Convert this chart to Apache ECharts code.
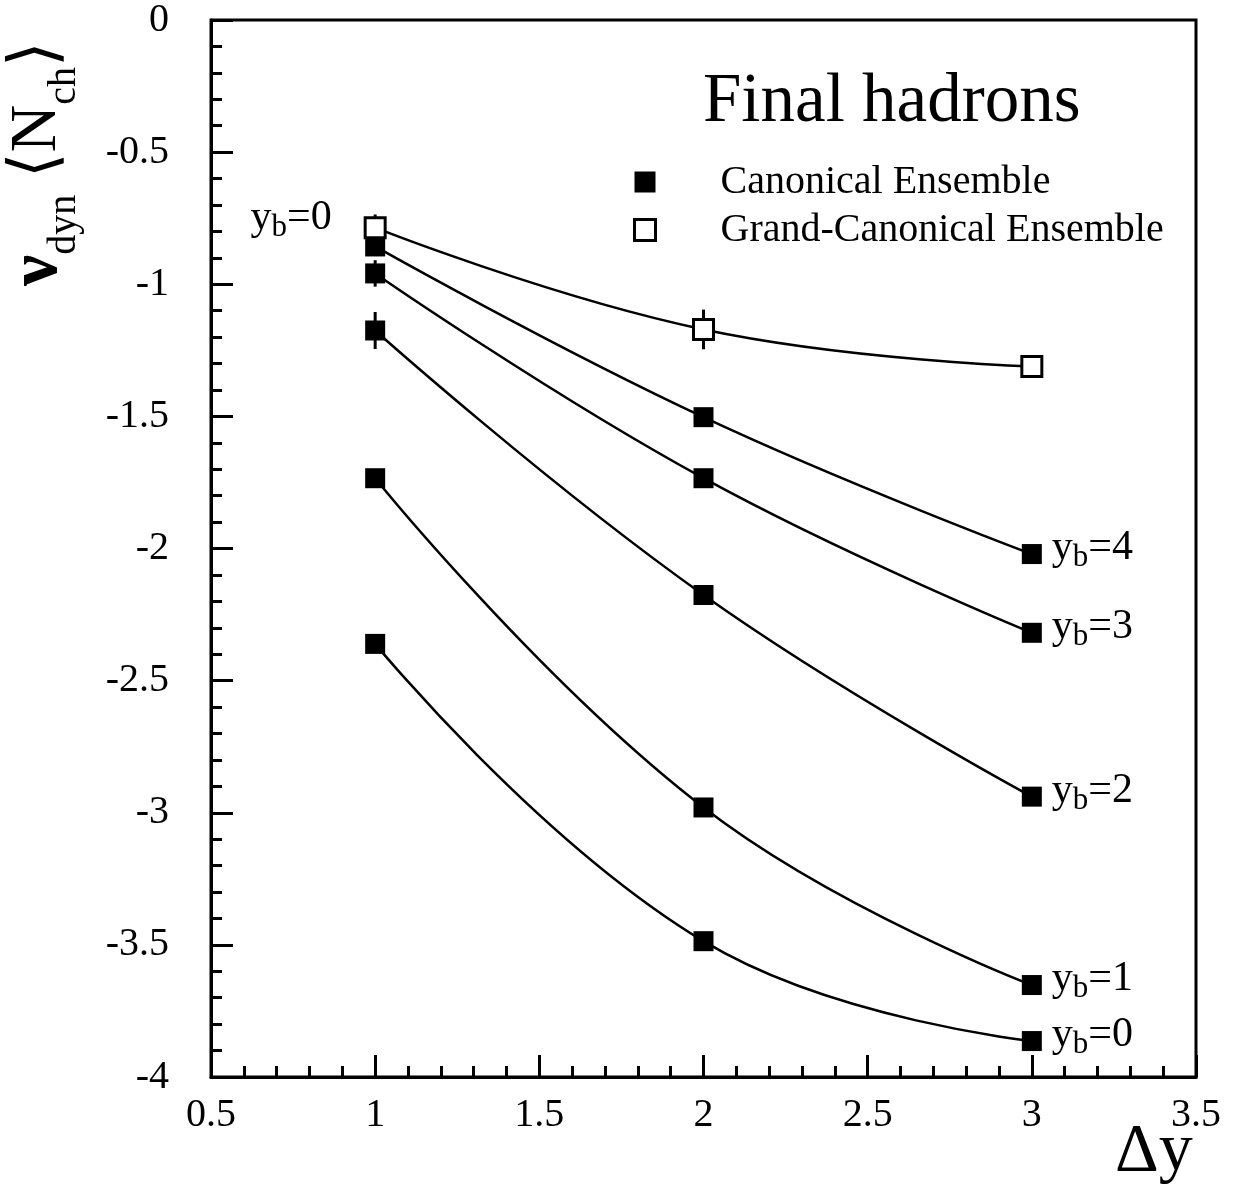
<!DOCTYPE html>
<html><head><meta charset="utf-8">
<script src="https://cdn.jsdelivr.net/npm/echarts@6/dist/echarts.min.js"></script>
<style>html,body{margin:0;padding:0;background:#fff}#c{width:1233px;height:1192px}</style>
</head><body><div id="c"></div>
<script>
const dy = [1, 2, 3];
const gce = [-0.786, -1.171, -1.311];
const gceErr = [0.05, 0.075, 0.03];
const ce4 = [-0.857, -1.503, -2.021];
const ce3 = [-0.959, -1.734, -2.319];
const ce2 = [-1.175, -2.176, -2.939];
const ce1 = [-1.734, -2.980, -3.652];
const ce0 = [-2.361, -3.486, -3.864];
const ce4Err = [0.03, 0.03, 0.02];
const ce3Err = [0.05, 0.03, 0.02];
const ce2Err = [0.07, 0.03, 0.02];
const ce1Err = [0.03, 0.02, 0.02];
const ce0Err = [0.02, 0.02, 0.02];
const ceLabels = ['4', '3', '2', '1', '0'];
const xTicks = [0.5, 1, 1.5, 2, 2.5, 3, 3.5];
const yTicks = [0, -0.5, -1, -1.5, -2, -2.5, -3, -3.5, -4];

const FONT = '"Liberation Serif", "DejaVu Serif", serif';
const chart = echarts.init(document.getElementById('c'));

const ceSets = [ce4, ce3, ce2, ce1, ce0];
const ceErrs = [ce4Err, ce3Err, ce2Err, ce1Err, ce0Err];
const rich = {
  a: {fontSize: 42, fontFamily: FONT, color: '#000'},
  b: {fontSize: 31, fontFamily: FONT, color: '#000', padding: [20, 0, 0, 0]}
};

function errSeries(vals, errs) {
  return {
    type: 'custom', z: 1, silent: true,
    data: dy.map((x, i) => [x, vals[i] - errs[i], vals[i] + errs[i]]),
    renderItem: (p, api) => {
      const a = api.coord([api.value(0), api.value(1)]);
      const b = api.coord([api.value(0), api.value(2)]);
      return {type: 'line', shape: {x1: a[0], y1: a[1], x2: b[0], y2: b[1]},
        style: {stroke: '#000', lineWidth: 3}};
    }
  };
}

const series = [];
ceSets.forEach((vals, k) => {
  series.push({
    name: 'Canonical Ensemble', type: 'line', smooth: 0.45, z: 3,
    symbol: 'rect', symbolSize: 20,
    lineStyle: {color: '#000', width: 2.5},
    itemStyle: {color: '#000'},
    data: dy.map((x, i) => {
      const d = {value: [x, vals[i]]};
      if (i === dy.length - 1) d.label = {show: true, position: 'right', distance: 10, offset: [0, -6],
        formatter: '{a|y}{b|b}{a|=' + ceLabels[k] + '}', rich: rich};
      return d;
    })
  });
  series.push(errSeries(vals, ceErrs[k]));
});
series.push({
  name: 'Grand-Canonical Ensemble', type: 'line', smooth: 0.45, z: 4,
  symbol: 'rect', symbolSize: 20,
  lineStyle: {color: '#000', width: 2.5},
  itemStyle: {color: '#fff', borderColor: '#000', borderWidth: 3},
  data: dy.map((x, i) => {
    const d = {value: [x, gce[i]]};
    if (i === 0) d.label = {show: true, position: 'left', distance: 32, offset: [0, -10],
      formatter: '{a|y}{b|b}{a|=0}', rich: rich};
    return d;
  })
});
series.push(errSeries(gce, gceErr));

chart.setOption({
  animation: false,
  backgroundColor: '#fff',
  grid: {left: 211, right: 37, top: 18, bottom: 115, show: true, borderColor: '#000', borderWidth: 3},
  xAxis: {
    type: 'value', min: xTicks[0], max: xTicks[xTicks.length - 1], interval: 0.5,
    axisLine: {onZero: false, lineStyle: {color: '#000', width: 3}},
    axisTick: {inside: true, length: 22, lineStyle: {color: '#000', width: 3}},
    minorTick: {show: true, splitNumber: 5, length: 11, lineStyle: {color: '#000', width: 3}},
    splitLine: {show: false},
    axisLabel: {fontFamily: FONT, fontSize: 40, color: '#000', margin: 18,
      formatter: v => String(v)}
  },
  yAxis: {
    type: 'value', min: yTicks[yTicks.length - 1], max: yTicks[0], interval: 0.5,
    axisLine: {onZero: false, lineStyle: {color: '#000', width: 3}},
    axisTick: {inside: true, length: 22, lineStyle: {color: '#000', width: 3}},
    minorTick: {show: true, splitNumber: 5, length: 11, lineStyle: {color: '#000', width: 3}},
    splitLine: {show: false},
    axisLabel: {fontFamily: FONT, fontSize: 40, color: '#000', margin: 42,
      formatter: v => String(v)}
  },
  legend: {
    orient: 'vertical', left: 628, top: 156, itemWidth: 21, itemHeight: 21, itemGap: 6,
    selectedMode: false,
    textStyle: {fontFamily: FONT, fontSize: 40, color: '#000', lineHeight: 42, padding: [0, 0, 0, 60]},
    data: [
      {name: 'Canonical Ensemble', icon: 'rect', itemStyle: {color: '#000', borderWidth: 0}},
      {name: 'Grand-Canonical Ensemble', icon: 'rect', itemStyle: {color: '#fff', borderColor: '#000', borderWidth: 3}}
    ]
  },
  graphic: [
    {type: 'text', left: 703, top: 68, style: {text: 'Final hadrons', font: '69px ' + FONT, fill: '#000'}},
    {type: 'text', left: 1115, top: 1118, style: {text: 'Δy', font: '68px ' + FONT, fill: '#000'}},
    {type: 'text', x: -8, y: 286, rotation: Math.PI / 2,
      style: {
        text: '{n|ν}{s|dyn}{g| ⟨N}{s|ch}{g|⟩}',
        rich: {
          n: {fontSize: 70, fontFamily: FONT, fontWeight: 'bold', fill: '#000'},
          s: {fontSize: 40, fontFamily: FONT, fill: '#000', padding: [52, 0, 0, 0]},
          g: {fontSize: 66, fontFamily: FONT, fill: '#000'}
        }
      }}
  ],
  series: series
});
</script></body></html>
